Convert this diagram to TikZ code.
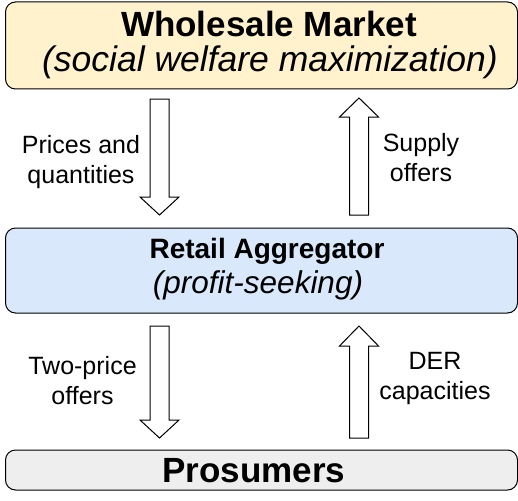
\documentclass[tikz,border=0pt]{standalone}
\usepackage{fontspec}
\setmainfont{Liberation Sans}
\usetikzlibrary{calc}
\definecolor{wmfill}{HTML}{FFF2CC}
\definecolor{rafill}{HTML}{DAE8FC}
\definecolor{prfill}{HTML}{EEEEEE}
\newcommand\blockarrow[3]{%
  \draw[barrowstyle] let \p1=(#1), \p2=(#2) in
    (\x1-9.5pt,\y1) -- (\x1+9.5pt,\y1) -- (\x1+9.5pt,\y2#3) -- (\x1+19.5pt,\y2#3)
    -- (\x2,\y2) -- (\x1-19.5pt,\y2#3) -- (\x1-9.5pt,\y2#3) -- cycle;}
\begin{document}
\begin{tikzpicture}[x=1pt,y=-1pt,
  box/.style={draw=black, line width=1pt, rounded corners=10pt, minimum width=512pt, inner sep=0pt},
  lbl/.style={align=center, font=\fontsize{25}{30}\selectfont, inner sep=0pt},
  barrowstyle/.style={draw=black, fill=white, line width=1pt, line join=miter}]
\useasboundingbox (0,0) rectangle (518,500);
% boxes
\node[box, fill=wmfill, minimum height=87pt] (wm) at (261.5,45.5) {};
\node[anchor=base, font=\fontsize{35}{40}\selectfont\bfseries] (wmT) at (269,36.5) {Wholesale Market};
\node[anchor=base, font=\fontsize{35.5}{40}\selectfont\itshape] (wmS) at (270,72) {(social welfare maximization)};
\node[box, fill=rafill, minimum height=85pt] (ra) at (261.5,270.5) {};
\node[anchor=base, font=\fontsize{28}{34}\selectfont\bfseries] (raT) at (267,258) {Retail Aggregator};
\node[anchor=base, font=\fontsize{31.5}{36}\selectfont\itshape] (raS) at (258,293) {(profit-seeking)};
\node[box, fill=prfill, minimum height=40pt] (pr) at (261.5,470) {};
\node[anchor=base, font=\fontsize{35}{40}\selectfont\bfseries] (prT) at (254,482) {Prosumers};
% arrow end points
\coordinate (a1s) at (159.5,99);  \coordinate (a1e) at (159.5,215);
\coordinate (a2s) at (359,215);   \coordinate (a2e) at (359,98);
\coordinate (a3s) at (159.5,326); \coordinate (a3e) at (159.5,438);
\coordinate (a4s) at (359,438);   \coordinate (a4e) at (359,326);
\blockarrow{a1s}{a1e}{+18pt}
\blockarrow{a2s}{a2e}{-19pt}
\blockarrow{a3s}{a3e}{+18pt}
\blockarrow{a4s}{a4e}{-20pt}
% labels
\node[lbl] (l1) at (81,162.5) {Prices and\\quantities};
\node[lbl] (l2) at (421,158) {Supply\\offers};
\node[lbl] (l3) at (82.5,381) {Two-price\\offers};
\node[lbl] (l4) at (435,378.5) {DER\\capacities};
\end{tikzpicture}
\end{document}
